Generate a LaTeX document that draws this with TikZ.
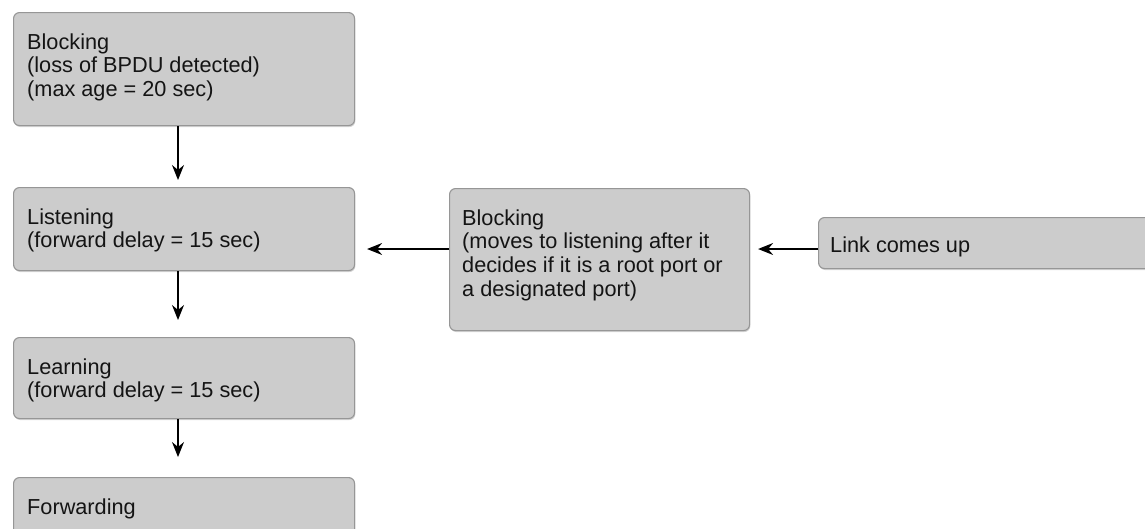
\documentclass[tikz,border=0pt]{standalone}
\usepackage{fontspec}
\setmainfont{Liberation Sans}
\usetikzlibrary{arrows.meta,shadows}
\definecolor{boxfill}{HTML}{CCCCCC}
\definecolor{boxline}{HTML}{969696}
\definecolor{ink}{HTML}{141414}
\begin{document}
\begin{tikzpicture}[x=1pt,y=-1pt,
  box/.style={draw=boxline, fill=boxfill, rounded corners=6pt, line width=1.1pt,
    inner sep=0pt, anchor=north west,
    drop shadow={shadow xshift=0.8pt, shadow yshift=-1.5pt, opacity=0.35}},
  label/.style={anchor=north west, inner sep=0pt, align=left, text=ink,
    font=\fontsize{21.7}{23.7}\selectfont},
  arr/.style={-{Stealth[length=15pt,width=12pt,inset=5pt]}, line width=1.4pt, draw=black}]
  \useasboundingbox (0,0) rectangle (1145,528);

  % state boxes of the left column
  \node[box, minimum width=341pt, minimum height=113pt] (b1) at (13,12) {};
  \node[box, minimum width=341pt, minimum height=83pt]  (b2) at (13,187) {};
  \node[box, minimum width=341pt, minimum height=81pt]  (b3) at (13,337) {};
  \node[box, minimum width=341pt, minimum height=75pt]  (b4) at (13,477) {};
  % middle and right boxes
  \node[box, minimum width=300pt, minimum height=142pt] (mid) at (449,188) {};
  \node[box, minimum width=345pt, minimum height=51pt]  (lnk) at (818,217) {};

  % texts
  \node[label] (t1) at (27,33.2) {Blocking\\(loss of BPDU detected)\\(max age = 20 sec)};
  \node[label] (t2) at (27,208.2) {Listening\\(forward delay = 15 sec)};
  \node[label] (t3) at (27,358.2) {Learning\\(forward delay = 15 sec)};
  \node[label] (t4) at (27,498.2) {Forwarding};
  \node[label] (tm) at (462,209.2) {Blocking\\(moves to listening after it\\decides if it is a root port or\\a designated port)};
  \node[label] (tl) at (830,236.2) {Link comes up};

  % connectors
  \draw[arr, shorten >=7pt]  ([xshift=165pt]b1.south west) -- ([xshift=165pt]b2.north west);
  \draw[arr, shorten >=17pt] ([xshift=165pt]b2.south west) -- ([xshift=165pt]b3.north west);
  \draw[arr, shorten >=20pt] ([xshift=165pt]b3.south west) -- ([xshift=165pt]b4.north west);
  \coordinate (m1) at ([yshift=-61pt]mid.north west);
  \draw[arr, shorten >=12pt] (m1) -- (m1 -| b2.east);
  \coordinate (k1) at ([yshift=-32pt]lnk.north west);
  \draw[arr, shorten >=8pt] (k1) -- (k1 -| mid.east);
\end{tikzpicture}
\end{document}
